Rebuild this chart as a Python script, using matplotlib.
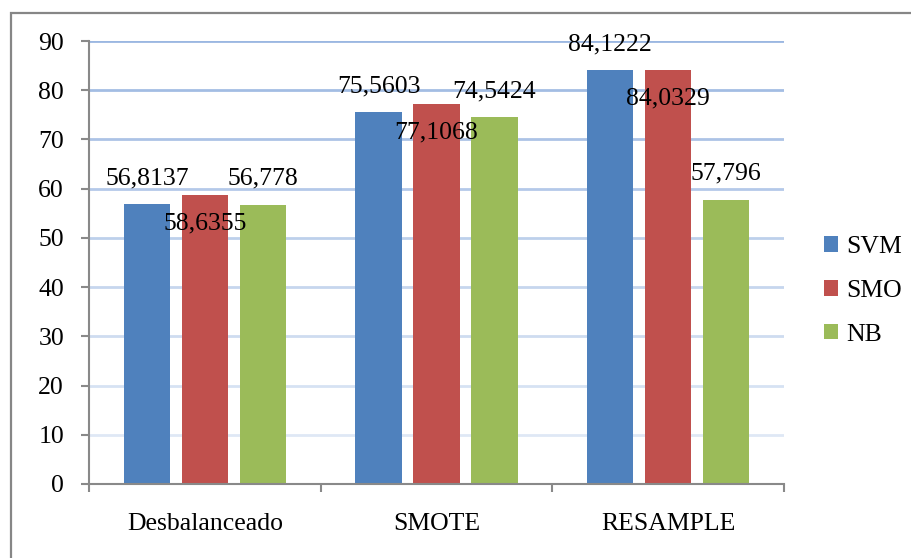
import matplotlib
matplotlib.use("Agg")
import matplotlib.pyplot as plt
from matplotlib.patches import Rectangle
from matplotlib.colors import to_rgb
import numpy as np

categories = ["Desbalanceado", "SMOTE", "RESAMPLE"]
series_names = ["SVM", "SMO", "NB"]
svm = [56.8137, 75.5603, 84.1222]
smo = [58.6355, 77.1068, 84.0329]
nb = [56.778, 74.5424, 57.796]
value_labels = {
    "SVM": ["56,8137", "75,5603", "84,1222"],
    "SMO": ["58,6355", "77,1068", "84,0329"],
    "NB": ["56,778", "74,5424", "57,796"],
}
yticks = [0, 10, 20, 30, 40, 50, 60, 70, 80, 90]

colors = ["#4F81BD", "#C0504D", "#9BBB59"]
axis_gray = "#898989"

plt.rcParams["font.family"] = ["Liberation Serif", "DejaVu Serif"]
FS = 18.5

W, H = 911, 558
fig = plt.figure(figsize=(W / 100, H / 100), dpi=100)
fig.patch.set_facecolor("white")

# outer chart frame
fig.patches.append(Rectangle((11 / W, -0.05), 1.2, (H - 13) / H + 0.05,
                             transform=fig.transFigure, fill=False,
                             edgecolor="#868686", linewidth=1.6, zorder=0))

ax = fig.add_axes([89 / W, (H - 484) / H, (784 - 89) / W, (484 - 41) / H])
ax.set_xlim(-0.5, 2.5)
ax.set_ylim(0, 90)

# horizontal gridlines, lighter toward the base
light = np.array(to_rgb("#DFE8F5"))
dark = np.array(to_rgb("#9BB7E1"))
for v in yticks[1:]:
    t = (v - 10) / 80
    c = light * (1 - t) + dark * t
    ax.axhline(v, color=c, linewidth=2.0, zorder=1)

x = np.arange(len(categories))
offsets = [-0.25, 0.0, 0.25]
width = 0.2
all_series = [svm, smo, nb]
for k, (name, vals) in enumerate(zip(series_names, all_series)):
    ax.bar(x + offsets[k], vals, width=width, color=colors[k], label=name,
           zorder=2, linewidth=0)
    for i, v in enumerate(vals):
        dy = -20.5 if name == "SMO" else 18.5
        ax.annotate(value_labels[name][i], (x[i] + offsets[k], v),
                    xytext=(0, dy), textcoords="offset points",
                    ha="center", va="center", fontsize=FS, color="black",
                    zorder=4)

for s in ["top", "right"]:
    ax.spines[s].set_visible(False)
for s in ["left", "bottom"]:
    ax.spines[s].set_color(axis_gray)
    ax.spines[s].set_linewidth(1.5)
    ax.spines[s].set_zorder(3)

ax.set_yticks(yticks)
ax.set_yticklabels([str(v) for v in yticks])
ax.tick_params(axis="y", direction="out", length=6, width=1.5, color=axis_gray,
               labelsize=FS, pad=12)

ax.set_xticks(x)
ax.set_xticklabels(categories)
ax.tick_params(axis="x", which="major", length=0, labelsize=FS, pad=21)
ax.set_xticks([-0.5, 0.5, 1.5, 2.5], minor=True)
ax.tick_params(axis="x", which="minor", direction="out", length=5.5, width=1.5,
               color=axis_gray)

leg = ax.legend(loc="center left", bbox_to_anchor=(824 / W, 1 - 291 / H),
                bbox_transform=fig.transFigure, frameon=False, fontsize=FS,
                handlelength=0.55, handleheight=0.55, handletextpad=0.3,
                labelspacing=0.85, borderpad=0, borderaxespad=0)

fig.savefig("out.png", dpi=100)
